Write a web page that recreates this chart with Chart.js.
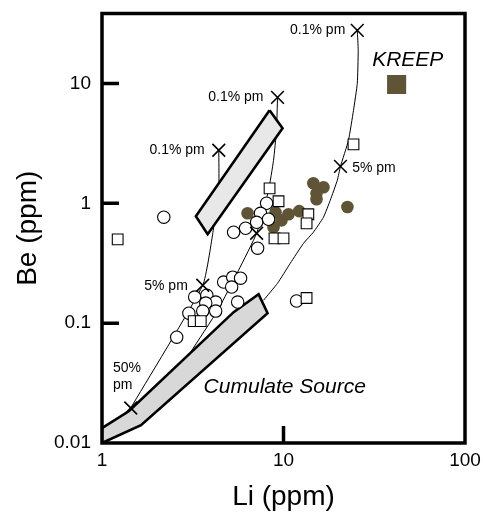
<!DOCTYPE html>
<html><head><meta charset="utf-8">
<script src="https://cdn.jsdelivr.net/npm/chart.js@4.4.0/dist/chart.umd.min.js"></script>
<style>html,body{margin:0;padding:0;background:#fff;}#wrap{width:483px;height:517px;}</style>
</head><body><div id="wrap"><canvas id="c" width="483" height="517"></canvas></div>
<script>
// ---- axis ticks ----
const xTicks = [1, 10, 100];
const xTickLabels = ['1', '10', '100'];
const yTicks = [0.01, 0.1, 1, 10];
const yTickLabels = ['0.01', '0.1', '1', '10'];
const xInnerTicks = [10];
const yInnerTicks = [0.1, 1, 10];

// ---- samples ----
const openCircleLi = [2.19, 11.8, 8.07, 7.47, 8.27, 7.11, 6.18, 5.31, 7.20, 4.68, 5.25, 5.80, 5.18, 5.59, 3.24, 3.78, 4.23, 3.73, 3.01, 3.59, 4.23, 2.58];
const openCircleBe = [0.765, 0.153, 1.00, 0.825, 0.736, 0.694, 0.619, 0.573, 0.422, 0.220, 0.242, 0.237, 0.200, 0.150, 0.165, 0.171, 0.150, 0.147, 0.121, 0.126, 0.126, 0.0764];

const openSquareLi = [1.22, 8.38, 9.39, 13.7, 13.4, 8.92, 10.0, 24.3, 13.4, 3.20, 3.50];
const openSquareBe = [0.50, 1.33, 1.04, 0.81, 0.68, 0.51, 0.51, 3.10, 0.162, 0.104, 0.104];

const filledCircleLi = [14.6, 16.6, 15.2, 15.2, 22.5, 12.2, 10.65, 9.04, 9.75, 8.81, 6.34];
const filledCircleBe = [1.47, 1.36, 1.21, 1.08, 0.93, 0.86, 0.81, 0.84, 0.72, 0.63, 0.825];

const kreepLi = [42];
const kreepBe = [9.8];

// ---- model mixing curves ----
const curve1Li = [4.40, 4.40, 4.07, 3.59, 1.44];
const curve1Be = [2.77, 1.41, 0.552, 0.207, 0.0196];
const curve2Li = [9.27, 9.15, 8.81, 8.27, 7.11, 5.66, 4.34, 3.08];
const curve2Be = [7.64, 4.06, 2.28, 1.28, 0.562, 0.277, 0.128, 0.0573];
const curve3Li = [25.5, 25.8, 25.5, 24.3, 22.8, 20.6, 19.8, 18.1, 16.6, 14.6, 12.9, 10.9, 9.27, 7.76];
const curve3Be = [27.7, 18.8, 10.0, 5.96, 3.35, 2.03, 1.56, 1.06, 0.765, 0.573, 0.464, 0.316, 0.215, 0.155];

// X marks on curves
const markLi = [25.5, 20.6, 9.27, 7.11, 4.40, 3.59, 1.44];
const markBe = [27.7, 2.03, 7.64, 0.562, 2.77, 0.207, 0.0196];

// ---- fields ----
const upperFieldLi = [8.38, 9.88, 3.82, 3.29, 8.38];
const upperFieldBe = [5.96, 4.22, 0.552, 0.779, 5.96];
const lowerFieldLi = [1.0, 1.41, 5.31, 7.29, 8.17, 1.64, 1.0, 1.0];
const lowerFieldBe = [0.0133, 0.0185, 0.1235, 0.1745, 0.121, 0.0141, 0.01, 0.0133];

// ---- annotations ----
const noteText = ['0.1% pm', '0.1% pm', '0.1% pm', '5% pm', '5% pm', '50%', 'pm'];
const noteLi = [21.9, 7.76, 3.68, 23.9, 2.97, 1.149, 1.149];
const noteBe = [27.65, 7.64, 2.765, 1.957, 0.2034, 0.0422, 0.0304];
const noteAlign = ['right', 'right', 'right', 'left', 'right', 'left', 'left'];
const bigText = ['KREEP', 'Cumulate Source'];
const bigLi = [30.8, 3.63];
const bigBe = [15.55, 0.0293];

const FONT = '"Liberation Sans", Arial, Helvetica, sans-serif';
const OLIVE = '#5f5536';

const pts = (xs, ys) => xs.map((v, i) => ({x: v, y: ys[i]}));

const lineDs = (xs, ys) => ({data: pts(xs, ys), showLine: true, pointRadius: 0, borderColor: '#000', borderWidth: 1, fill: false, tension: 0.15});
const fieldDs = (xs, ys, col) => ({data: pts(xs, ys), showLine: true, pointRadius: 0, borderColor: '#000', borderWidth: 2.6, backgroundColor: col, fill: 'shape', tension: 0, borderJoinStyle: 'miter'});

const framePlugin = {
  id: 'frame',
  afterDatasetsDraw(chart) {
    const {ctx, chartArea: a, scales: {x, y}} = chart;
    ctx.save();
    ctx.strokeStyle = '#000';
    ctx.lineWidth = 3.5;
    ctx.strokeRect(a.left, a.top, a.right - a.left, a.bottom - a.top);
    ctx.beginPath();
    yInnerTicks.forEach(v => { const py = y.getPixelForValue(v); ctx.moveTo(a.left, py); ctx.lineTo(a.left + 17, py); });
    xInnerTicks.forEach(v => { const px = x.getPixelForValue(v); ctx.moveTo(px, a.bottom); ctx.lineTo(px, a.bottom - 17); });
    ctx.stroke();
    ctx.restore();
  },
  afterDraw(chart) {
    const {ctx, scales: {x, y}} = chart;
    ctx.save();
    ctx.fillStyle = '#000';
    ctx.textBaseline = 'middle';
    ctx.font = '14px ' + FONT;
    noteText.forEach((t, i) => {
      ctx.textAlign = noteAlign[i];
      ctx.fillText(t, x.getPixelForValue(noteLi[i]), y.getPixelForValue(noteBe[i]));
    });
    ctx.font = 'italic 21px ' + FONT;
    ctx.textAlign = 'left';
    bigText.forEach((t, i) => ctx.fillText(t, x.getPixelForValue(bigLi[i]), y.getPixelForValue(bigBe[i])));
    ctx.restore();
  }
};

new Chart(document.getElementById('c'), {
  type: 'scatter',
  data: {
    datasets: [
      {data: pts(markLi, markBe), pointStyle: 'crossRot', pointRadius: 9, borderColor: '#000', borderWidth: 1.6, backgroundColor: 'transparent'},
      {data: pts(kreepLi, kreepBe), pointStyle: 'rect', pointRadius: 13.5, backgroundColor: OLIVE, borderColor: OLIVE, borderWidth: 0},
      {data: pts(openSquareLi, openSquareBe), pointStyle: 'rect', pointRadius: 7.6, backgroundColor: '#fff', borderColor: '#000', borderWidth: 1.1},
      {data: pts(openCircleLi, openCircleBe), pointStyle: 'circle', pointRadius: 6.2, backgroundColor: '#fff', borderColor: '#000', borderWidth: 1.1},
      {data: pts(filledCircleLi, filledCircleBe), pointStyle: 'circle', pointRadius: 6.3, backgroundColor: OLIVE, borderColor: OLIVE, borderWidth: 0},
      fieldDs(upperFieldLi, upperFieldBe, '#e8e8e8'),
      fieldDs(lowerFieldLi, lowerFieldBe, '#d8d8d8'),
      lineDs(curve1Li, curve1Be),
      lineDs(curve2Li, curve2Be),
      lineDs(curve3Li, curve3Be)
    ]
  },
  options: {
    responsive: false,
    animation: false,
    events: [],
    devicePixelRatio: 1,
    layout: {padding: {top: 13, right: 18, left: 0, bottom: 0}},
    plugins: {legend: {display: false}, tooltip: {enabled: false}},
    scales: {
      x: {
        type: 'logarithmic', position: 'bottom', min: 1, max: 100,
        afterBuildTicks: s => { s.ticks = xTicks.map(v => ({value: v})); },
        afterFit: s => { s.height = 74; s.paddingLeft = 0; s.paddingRight = 0; },
        grid: {display: false, drawTicks: false},
        border: {display: false},
        ticks: {padding: 6, color: '#000', font: {family: FONT, size: 19}, maxRotation: 0, autoSkip: false,
          callback: v => xTickLabels[xTicks.indexOf(v)]},
        title: {display: true, text: 'Li (ppm)', color: '#000', font: {family: FONT, size: 28}, padding: {top: 0, bottom: 3}}
      },
      y: {
        type: 'logarithmic', position: 'left', min: 0.01, max: 38.3,
        afterBuildTicks: s => { s.ticks = yTicks.map(v => ({value: v})); },
        afterFit: s => { s.width = 102; s.paddingTop = 0; s.paddingBottom = 0; },
        grid: {display: false, drawTicks: false},
        border: {display: false},
        ticks: {padding: 11, color: '#000', font: {family: FONT, size: 19}, autoSkip: false,
          callback: v => yTickLabels[yTicks.indexOf(v)]},
        title: {display: true, text: 'Be (ppm)', color: '#000', font: {family: FONT, size: 28}, padding: {top: 11, bottom: 0}}
      }
    }
  },
  plugins: [framePlugin]
});
</script>
</body></html>
